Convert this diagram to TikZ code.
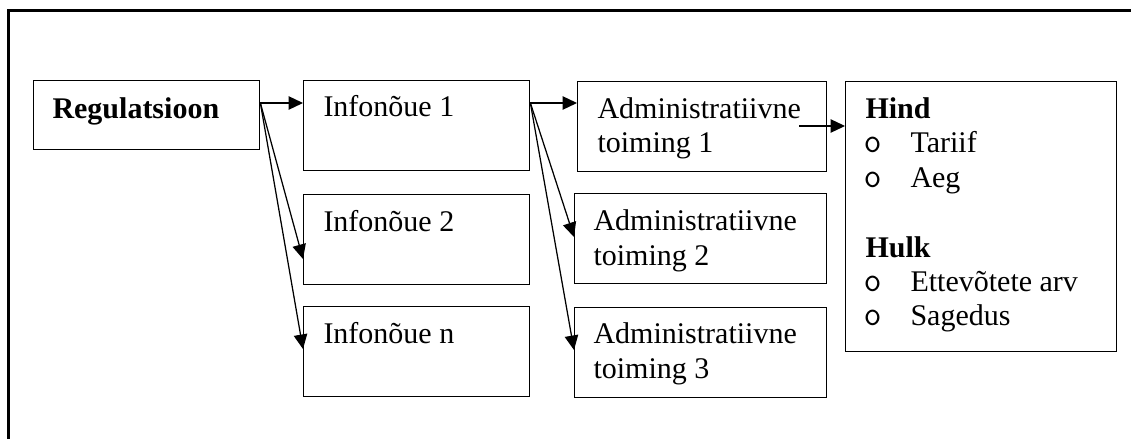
\documentclass[tikz,border=0pt]{standalone}
\usepackage{fontspec}
\setmainfont{Liberation Serif}
\usetikzlibrary{arrows.meta,calc}
\begin{document}
\begin{tikzpicture}[x=0.4pt,y=-0.4pt,
  box/.style={draw,line width=0.55pt,rectangle,anchor=north west,inner sep=0pt,minimum height=36pt},
  txt/.style={anchor=base west,inner sep=0pt,font=\fontsize{12}{13.9}\selectfont},
  bul/.style={anchor=base west,inner sep=0pt,font=\ttfamily\fontsize{14}{13.9}\selectfont},
  arr/.style={line width=0.5pt,-{Triangle[length=5.8pt,width=5.4pt]}}]
\useasboundingbox (0,0) rectangle (1131,439);
% outer frame (only top and left edges visible)
\draw[line width=1.4pt] (8.5,439) -- (8.5,10.5) -- (1131,10.5);
% boxes
\node[box,minimum width=90.4pt,minimum height=27.6pt] (reg) at (33,80) {};
\node[box,minimum width=90.4pt] (i1) at (303,80) {};
\node[box,minimum width=90.4pt] (i2) at (303,194) {};
\node[box,minimum width=90.4pt] (in) at (303,306) {};
\node[box,minimum width=99.6pt] (a1) at (577,81) {};
\node[box,minimum width=100.8pt] (a2) at (574,193) {};
\node[box,minimum width=100.8pt] (a3) at (574,307) {};
\node[box,minimum width=108.4pt,minimum height=108pt] (rb) at (845,81) {};
% texts
\node[txt,font=\fontsize{12}{13.9}\selectfont\bfseries] (tReg) at (52,118) {Regulatsioon};
\node[txt] (tI1) at (323,117) {Infonõue 1};
\node[txt] (tI2) at (323,231) {Infonõue 2};
\node[txt] (tIn) at (323,343) {Infonõue n};
\node[txt] (tA1a) at (597,118) {Administratiivne};
\node[txt] (tA1b) at (597,153) {toiming 1};
\node[txt] (tA2a) at (593,230) {Administratiivne};
\node[txt] (tA2b) at (593,265) {toiming 2};
\node[txt] (tA3a) at (593,343) {Administratiivne};
\node[txt] (tA3b) at (593,378) {toiming 3};
\node[txt,font=\fontsize{12}{13.9}\selectfont\bfseries] (tHind) at (865,118) {Hind};
\node[bul] (b1) at (863,152) {o};
\node[txt] (tTar) at (910,152) {Tariif};
\node[bul] (b2) at (863,187) {o};
\node[txt] (tAeg) at (910,187) {Aeg};
\node[txt,font=\fontsize{12}{13.9}\selectfont\bfseries] (tHulk) at (865,257) {Hulk};
\node[bul] (b3) at (863,291) {o};
\node[txt] (tEtt) at (910,291) {Ettevõtete arv};
\node[bul] (b4) at (863,325) {o};
\node[txt] (tSag) at (910,325) {Sagedus};
% connector anchor points
\coordinate (rs) at ($(reg.north east)+(0,23)$);
\coordinate (i1s) at ($(i1.north east)+(0,23)$);
\coordinate (i1t) at ($(i1.north west)+(0,23)$);
\coordinate (i2t) at ($(i2.north west)+(0,65)$);
\coordinate (int) at ($(in.north west)+(0,43)$);
\coordinate (a1t) at ($(a1.north west)+(0,22)$);
\coordinate (a2t) at ($(a2.north west)+(0,44)$);
\coordinate (a3t) at ($(a3.north west)+(0,43)$);
\coordinate (rbt) at ($(rb.north west)+(0,45)$);
\coordinate (a1s) at ($(rb.north west)+(-46,45)$);
% connectors
\draw[arr] (rs) -- (i1t);
\draw[arr] (rs) -- (i2t);
\draw[arr] (rs) -- (int);
\draw[arr] (i1s) -- (a1t);
\draw[arr] (i1s) -- (a2t);
\draw[arr] (i1s) -- (a3t);
\draw[arr] (a1s) -- (rbt);
\end{tikzpicture}
\end{document}
